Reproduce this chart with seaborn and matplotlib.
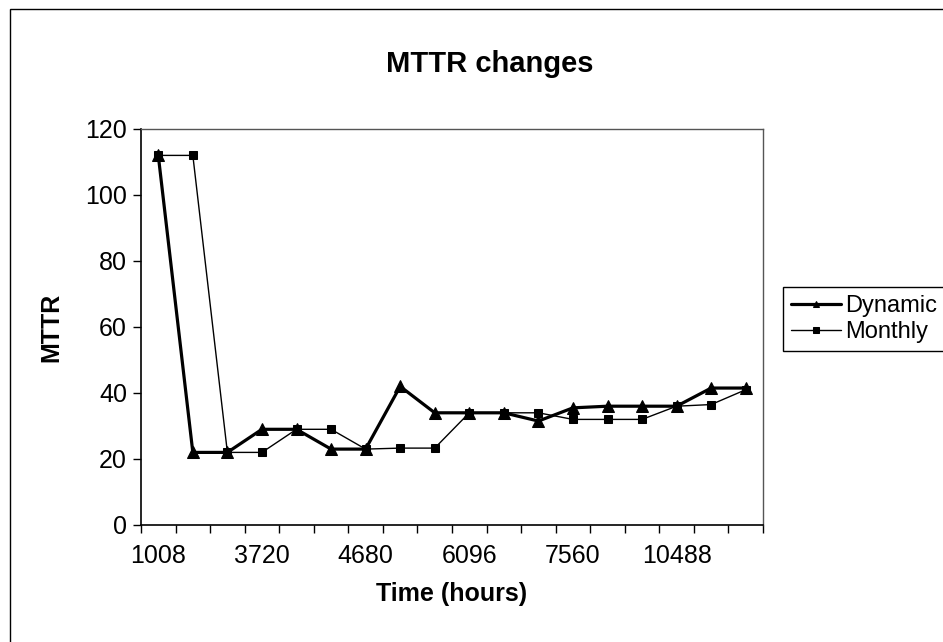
import matplotlib
matplotlib.use("Agg")
import matplotlib.pyplot as plt
import matplotlib.patches as patches
from matplotlib.ticker import FixedLocator
import seaborn as sns
import numpy as np
import pandas as pd

# ---- data ----
tick_labels = ["1008", "3720", "4680", "6096", "7560", "10488"]
label_every = 3
dynamic = [112, 22, 22, 29, 29, 23, 23, 42, 34, 34, 34, 31.5, 35.5, 36, 36, 36, 41.5, 41.5]
monthly = [112, 112, 22, 22, 29, 29, 23, 23.3, 23.3, 34, 34, 34, 32, 32, 32, 36, 36.5, 41]
series_names = ["Dynamic", "Monthly"]

n = len(dynamic)
idx = list(range(n))
df = pd.DataFrame({"pos": idx * 2,
                   "MTTR": dynamic + monthly,
                   "series": [series_names[0]] * n + [series_names[1]] * n})

sns.set_theme(style="white")
plt.rcParams['font.family'] = ['Liberation Sans', 'DejaVu Sans']
plt.rcParams.update({"text.color": "black", "axes.labelcolor": "black",
                     "xtick.color": "black", "ytick.color": "black"})

fig = plt.figure(figsize=(9.43, 6.42), dpi=100)
W, H = 943, 642
ax = fig.add_axes([141 / W, 1 - 525 / H, (763 - 141) / W, (525 - 129) / H])

# outer chart border
fig.patches.append(patches.Rectangle((10 / W, -0.05), 1.1, 1 - 9 / H + 0.05,
                                     transform=fig.transFigure, fill=False,
                                     edgecolor="black", linewidth=1.0, zorder=0))

d_dyn = df[df.series == "Dynamic"]
d_mon = df[df.series == "Monthly"]
sns.lineplot(data=d_mon, x="pos", y="MTTR", ax=ax, color="black", linewidth=1.0,
             marker="s", markersize=6, markeredgecolor="black", label="Monthly")
sns.lineplot(data=d_dyn, x="pos", y="MTTR", ax=ax, color="black", linewidth=2.3,
             marker="^", markersize=8.5, markeredgecolor="black", label="Dynamic")

ax.set_xlim(-0.5, n - 0.5)
ax.set_ylim(0, 120)
ax.set_yticks(range(0, 121, 20))

major_pos = list(range(0, n, label_every))[:len(tick_labels)]
ax.set_xticks(major_pos)
ax.set_xticklabels(tick_labels)
ax.xaxis.set_minor_locator(FixedLocator(np.arange(-0.5, n, 1.0)))
ax.tick_params(axis="x", which="major", length=0, pad=14, labelsize=18, labelcolor="black")
ax.tick_params(axis="x", which="minor", length=6, width=1, color="black", direction="out", bottom=True)
ax.tick_params(axis="y", which="major", length=6, width=1, color="black", direction="out",
               left=True, pad=4, labelsize=18, labelcolor="black")

for s in ["left", "bottom"]:
    ax.spines[s].set_color("black")
    ax.spines[s].set_linewidth(1.2)
for s in ["top", "right"]:
    ax.spines[s].set_color("#555555")
    ax.spines[s].set_linewidth(1.0)

ax.set_xlabel("Time (hours)", fontsize=18, fontweight="bold", labelpad=10, color="black")
ax.set_ylabel("MTTR", fontsize=18, fontweight="bold", labelpad=16, color="black")
fig.text(490 / W, 1 - 64 / H, "MTTR changes", ha="center", va="center",
         fontsize=21, fontweight="bold", color="black")

handles, labels = ax.get_legend_handles_labels()
order = [labels.index("Dynamic"), labels.index("Monthly")]
leg = ax.legend([handles[i] for i in order], [labels[i] for i in order],
                loc="upper left", bbox_to_anchor=(783 / W, 1 - 287 / H),
                bbox_transform=fig.transFigure, fontsize=17, frameon=True,
                fancybox=False, edgecolor="black", framealpha=1,
                handlelength=2.1, handletextpad=0.2, borderpad=0.35,
                labelspacing=0.15, borderaxespad=0)
leg.get_frame().set_linewidth(1.0)
for h in leg.legend_handles:
    h.set_markersize(5)

fig.savefig("out.png", dpi=100)
